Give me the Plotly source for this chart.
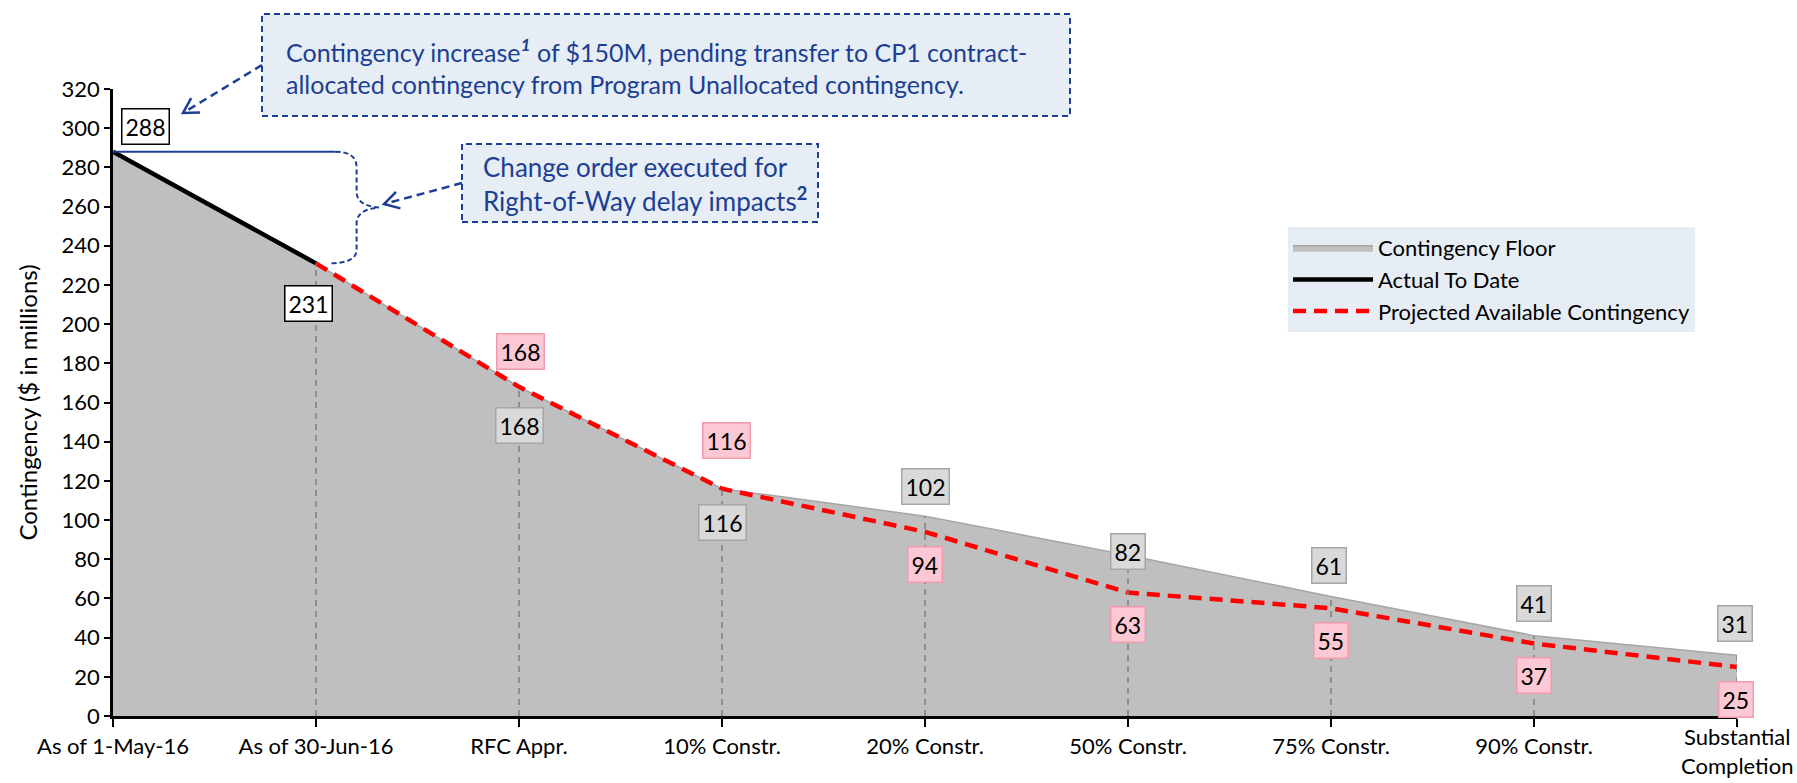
import math
import plotly.graph_objects as go

# ---- data -------------------------------------------------------------
categories = ["As of 1-May-16", "As of 30-Jun-16", "RFC Appr.", "10% Constr.",
              "20% Constr.", "50% Constr.", "75% Constr.", "90% Constr.",
              "Substantial<br>Completion"]
floor_values = [288, 231, 168, 116, 102, 82, 61, 41, 31]
actual_values = [288, 231]
projected_values = [231, 168, 116, 94, 63, 55, 37, 25]   # starts at "As of 30-Jun-16"

x_pos = list(range(len(categories)))
actual_x = x_pos[:len(actual_values)]
projected_x = x_pos[len(categories) - len(projected_values):]

# ---- styling ------------------------------------------------------------
FONT = "Lato, 'Open Sans', sans-serif"
BLUE = "#1c3f94"
BOX_FILL = "#e6edf5"
GRAY_FILL = "#bfbfbf"

W, H = 1797, 783
M_L, M_R, M_T, M_B = 113, 60, 89, 67
PW, PH = W - M_L - M_R, H - M_T - M_B


def paper(xp, yp):
    """Pixel position on the page -> paper coordinates."""
    return (xp - M_L) / PW, (M_T + PH - yp) / PH


fig = go.Figure()

fig.add_trace(go.Scatter(
    x=x_pos, y=floor_values, mode="lines", name="Contingency Floor",
    fill="tozeroy", fillcolor=GRAY_FILL,
    line=dict(color="#a6a6a6", width=1.5),
))
fig.add_trace(go.Scatter(
    x=actual_x, y=actual_values, mode="lines", name="Actual To Date",
    line=dict(color="black", width=4.5),
))
fig.add_trace(go.Scatter(
    x=projected_x, y=projected_values, mode="lines",
    name="Projected Available Contingency",
    line=dict(color="#ff0000", width=4.5, dash="13px,8px"),
))

# dashed drop lines from each milestone down to the axis
drop_x, drop_y = [], []
for i in x_pos[1:]:
    drop_x += [i, i, None]
    drop_y += [0, floor_values[i], None]
fig.add_trace(go.Scatter(
    x=drop_x, y=drop_y, mode="lines", showlegend=False, hoverinfo="skip",
    line=dict(color="#7f7f7f", width=1.5, dash="6px,5px"),
))

# ---- value labels ---------------------------------------------------------
STYLE_WHITE = dict(bgcolor="white", bordercolor="black")
STYLE_GRAY = dict(bgcolor="#d9d9d9", bordercolor="#a6a6a6")
STYLE_PINK = dict(bgcolor="#fbc8d4", bordercolor="#f29aae")

floor_offsets = [(32, 25), (-8, -40), (0, -39), (0, -34), (0, 30),
                 (0, 4), (-2, 31), (0, 32), (-2, 32)]
projected_offsets = [None, (1, 35), (4, 48), (0, -33), (0, -32),
                     (0, -32), (0, -32), (-1, -32)]

annotations = []


def value_box(x, y, style, shift):
    annotations.append(dict(
        x=x, y=y, xref="x", yref="y", text=str(y), showarrow=False,
        xanchor="center", yanchor="middle", xshift=shift[0], yshift=shift[1],
        font=dict(family=FONT, size=23, color="black"),
        borderwidth=1.5, borderpad=3, **style,
    ))


for i, v in enumerate(floor_values):
    style = STYLE_WHITE if i < len(actual_values) else STYLE_GRAY
    value_box(x_pos[i], v, style, floor_offsets[i])
for j, v in enumerate(projected_values):
    if projected_offsets[j] is not None:
        value_box(projected_x[j], v, STYLE_PINK, projected_offsets[j])

# ---- category labels --------------------------------------------------------
# single-line labels go on the axis; the two-line last label is centred on the
# same band as the others, so it is placed as its own text
single_line = [c if "<br>" not in c else "" for c in categories]
for i, c in enumerate(categories):
    if "<br>" in c:
        _, cy = paper(0, 751)
        annotations.append(dict(
            x=x_pos[i], y=cy, xref="x", yref="paper", text=c, showarrow=False,
            xanchor="center", yanchor="middle", align="center",
            font=dict(family=FONT, size=22, color="black"),
        ))

# ---- callouts ---------------------------------------------------------------
shapes = []


def callout_box(x0p, y0p, x1p, y1p):
    a = paper(x0p, y1p)
    b = paper(x1p, y0p)
    shapes.append(dict(type="rect", xref="paper", yref="paper",
                       x0=a[0], y0=a[1], x1=b[0], y1=b[1],
                       fillcolor=BOX_FILL, layer="above",
                       line=dict(color=BLUE, width=2, dash="6px,4px")))


def dashed_arrow(tail, tip, head_len=17, head_angle=30):
    t = paper(*tail)
    h = paper(*tip)
    shapes.append(dict(type="line", xref="paper", yref="paper",
                       x0=t[0], y0=t[1], x1=h[0], y1=h[1],
                       line=dict(color=BLUE, width=2.5, dash="8px,5px")))
    dx, dy = tail[0] - tip[0], tail[1] - tip[1]
    n = math.hypot(dx, dy)
    ux, uy = dx / n, dy / n
    pts = []
    for sgn in (-1, 1):
        ang = math.radians(head_angle) * sgn
        rx = ux * math.cos(ang) - uy * math.sin(ang)
        ry = ux * math.sin(ang) + uy * math.cos(ang)
        pts.append(paper(tip[0] + rx * head_len, tip[1] + ry * head_len))
    path = (f"M{pts[0][0]},{pts[0][1]} L{h[0]},{h[1]} L{pts[1][0]},{pts[1][1]}")
    shapes.append(dict(type="path", xref="paper", yref="paper", path=path,
                       line=dict(color=BLUE, width=2.5)))


callout_box(262, 14, 1070, 116)
callout_box(462, 144, 818, 222)
dashed_arrow((262, 65), (183, 113))
dashed_arrow((462, 183), (384, 204))

tx, ty = paper(284, 66)
annotations.append(dict(
    x=tx, y=ty, xref="paper", yref="paper", showarrow=False,
    xanchor="left", yanchor="middle", align="left",
    text=("Contingency increase<sup><b><i>1</i></b></sup> of $150M, pending transfer to CP1 contract-"
          "<br>allocated contingency from Program Unallocated contingency."),
    font=dict(family=FONT, size=25, color=BLUE),
))
tx, ty = paper(481, 184)
annotations.append(dict(
    x=tx, y=ty, xref="paper", yref="paper", showarrow=False,
    xanchor="left", yanchor="middle", align="left",
    text="Change order executed for<br>Right-of-Way delay impacts<sup><b>2</b></sup>",
    font=dict(family=FONT, size=26, color=BLUE),
))

# bracket marking the drop between the two actual values
top, bottom = actual_values[0], actual_values[-1]
mid = (top + bottom) / 2
shapes.append(dict(type="line", xref="x", yref="y", x0=0, y0=top, x1=1.095, y1=top,
                   line=dict(color=BLUE, width=2)))
brace = (f"M1.095,{top} Q1.20,{top} 1.20,{top - 8} "
         f"L1.20,{mid + 8} Q1.20,{mid + 1} 1.31,{mid} "
         f"Q1.20,{mid - 1} 1.20,{mid - 8} "
         f"L1.20,{bottom + 7} Q1.20,{bottom} 1.065,{bottom}")
shapes.append(dict(type="path", xref="x", yref="y", path=brace,
                   line=dict(color=BLUE, width=2, dash="5px,3px")))

# ---- layout -------------------------------------------------------------
lx, ly = paper(1288, 227)
fig.update_layout(
    width=W, height=H,
    margin=dict(l=M_L, r=M_R, t=M_T, b=M_B, autoexpand=False),
    paper_bgcolor="white", plot_bgcolor="white",
    font=dict(family=FONT, size=22, color="black"),
    showlegend=True,
    legend=dict(x=lx, y=ly, xanchor="left", yanchor="top",
                bgcolor=BOX_FILL, borderwidth=0,
                font=dict(family=FONT, size=22, color="black"),
                itemwidth=80, tracegroupgap=0),
    xaxis=dict(range=[0, 8], tickmode="array", tickvals=x_pos, ticktext=single_line,
               showline=True, linecolor="black", linewidth=2.5,
               ticks="outside", ticklen=8, tickwidth=2, tickcolor="black",
               ticklabelstandoff=1, automargin=False,
               showgrid=False, zeroline=False,
               tickfont=dict(family=FONT, size=22, color="black")),
    yaxis=dict(range=[0, 320], dtick=20, tick0=0,
               showline=True, linecolor="black", linewidth=2.5,
               ticks="outside", ticklen=6, tickwidth=2, tickcolor="black",
               showgrid=False, zeroline=False, automargin=False,
               tickfont=dict(family=FONT, size=22, color="black"),
               title=dict(text="Contingency ($ in millions)", standoff=18,
                          font=dict(family=FONT, size=24, color="black"))),
    shapes=shapes,
    annotations=annotations,
)

fig.write_html("out.html")
